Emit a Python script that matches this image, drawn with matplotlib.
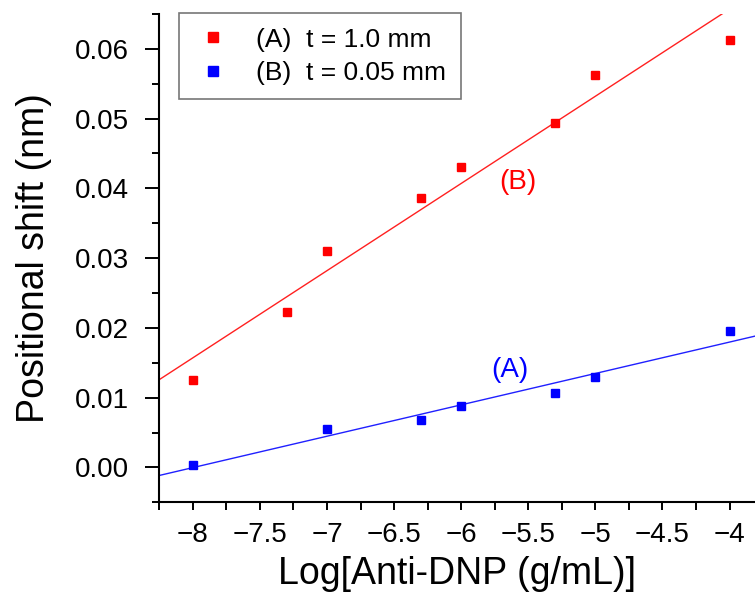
import numpy as np
import matplotlib
matplotlib.use("Agg")
import matplotlib.pyplot as plt
from matplotlib.ticker import MultipleLocator, FormatStrFormatter

plt.rcParams['font.family'] = ['Liberation Sans', 'DejaVu Sans']

# log10 of anti-DNP concentration (g/mL)
x_a = [-8.0, -7.3, -7.0, -6.3, -6.0, -5.3, -5.0, -4.0]
shift_a = [0.0125, 0.0223, 0.0310, 0.0386, 0.0431, 0.0494, 0.0563, 0.0612]

x_b = [-8.0, -7.0, -6.3, -6.0, -5.3, -5.0, -4.0]
shift_b = [0.0004, 0.0055, 0.0068, 0.0088, 0.0106, 0.0129, 0.0196]

legend_labels = ['(A)  t = 1.0 mm', '(B)  t = 0.05 mm']

fig = plt.figure(figsize=(7.55, 5.97), dpi=100)
ax = fig.add_axes([0.211, 0.1586, 0.789, 0.818])

xlim = (-8.25, -3.81)
xs = np.array(xlim)

# linear fits drawn across the whole axis
pa = np.polyfit(x_a, shift_a, 1)
pb = np.polyfit(x_b, shift_b, 1)
ax.plot(xs, np.polyval(pa, xs), color='#ff2020', lw=1.0)
ax.plot(xs, np.polyval(pb, xs), color='#2020ff', lw=1.0)

ha, = ax.plot(x_a, shift_a, 's', color='red', ms=6, mec='red')
hb, = ax.plot(x_b, shift_b, 's', color='blue', ms=6, mec='blue')

ax.text(-5.58, 0.0409, '(B)', color='red', fontsize=20, ha='center', va='center')
ax.text(-5.64, 0.0139, '(A)', color='blue', fontsize=20, ha='center', va='center')

ax.set_xlim(*xlim)
ax.set_ylim(-0.005, 0.065)

ax.xaxis.set_major_locator(MultipleLocator(0.5))
ax.xaxis.set_minor_locator(MultipleLocator(0.25))
ax.yaxis.set_major_locator(MultipleLocator(0.01))
ax.yaxis.set_minor_locator(MultipleLocator(0.005))
ax.xaxis.set_major_formatter(plt.FuncFormatter(lambda v, p: ('%g' % v).replace('-', '\u2212')))
ax.yaxis.set_major_formatter(FormatStrFormatter('%.2f'))

ax.tick_params(axis='x', which='both', direction='out', length=6, width=1.4, labelsize=20, pad=8)
ax.tick_params(axis='y', which='major', direction='out', length=10, width=1.4, labelsize=20, pad=12)
ax.tick_params(axis='y', which='minor', direction='out', length=5, width=1.4)

for side in ['top', 'right']:
    ax.spines[side].set_visible(False)
for side in ['left', 'bottom']:
    ax.spines[side].set_linewidth(1.5)

ax.set_xlabel('Log[Anti-DNP (g/mL)]', fontsize=27)
ax.set_ylabel('Positional shift (nm)', fontsize=27)
ax.yaxis.set_label_coords(-0.18, 0.5)
ax.xaxis.set_label_coords(0.5, -0.11)

leg = ax.legend([ha, hb], legend_labels, loc='upper left', bbox_to_anchor=(0.033, 1.002),
                borderaxespad=0, fontsize=19, frameon=True, fancybox=False,
                handlelength=1.48, handletextpad=0.89, labelspacing=0.35,
                borderpad=0.55, markerscale=1.15)
leg.get_frame().set_edgecolor('#555555')
leg.get_frame().set_linewidth(1.2)

fig.savefig('out.png', dpi=100)
